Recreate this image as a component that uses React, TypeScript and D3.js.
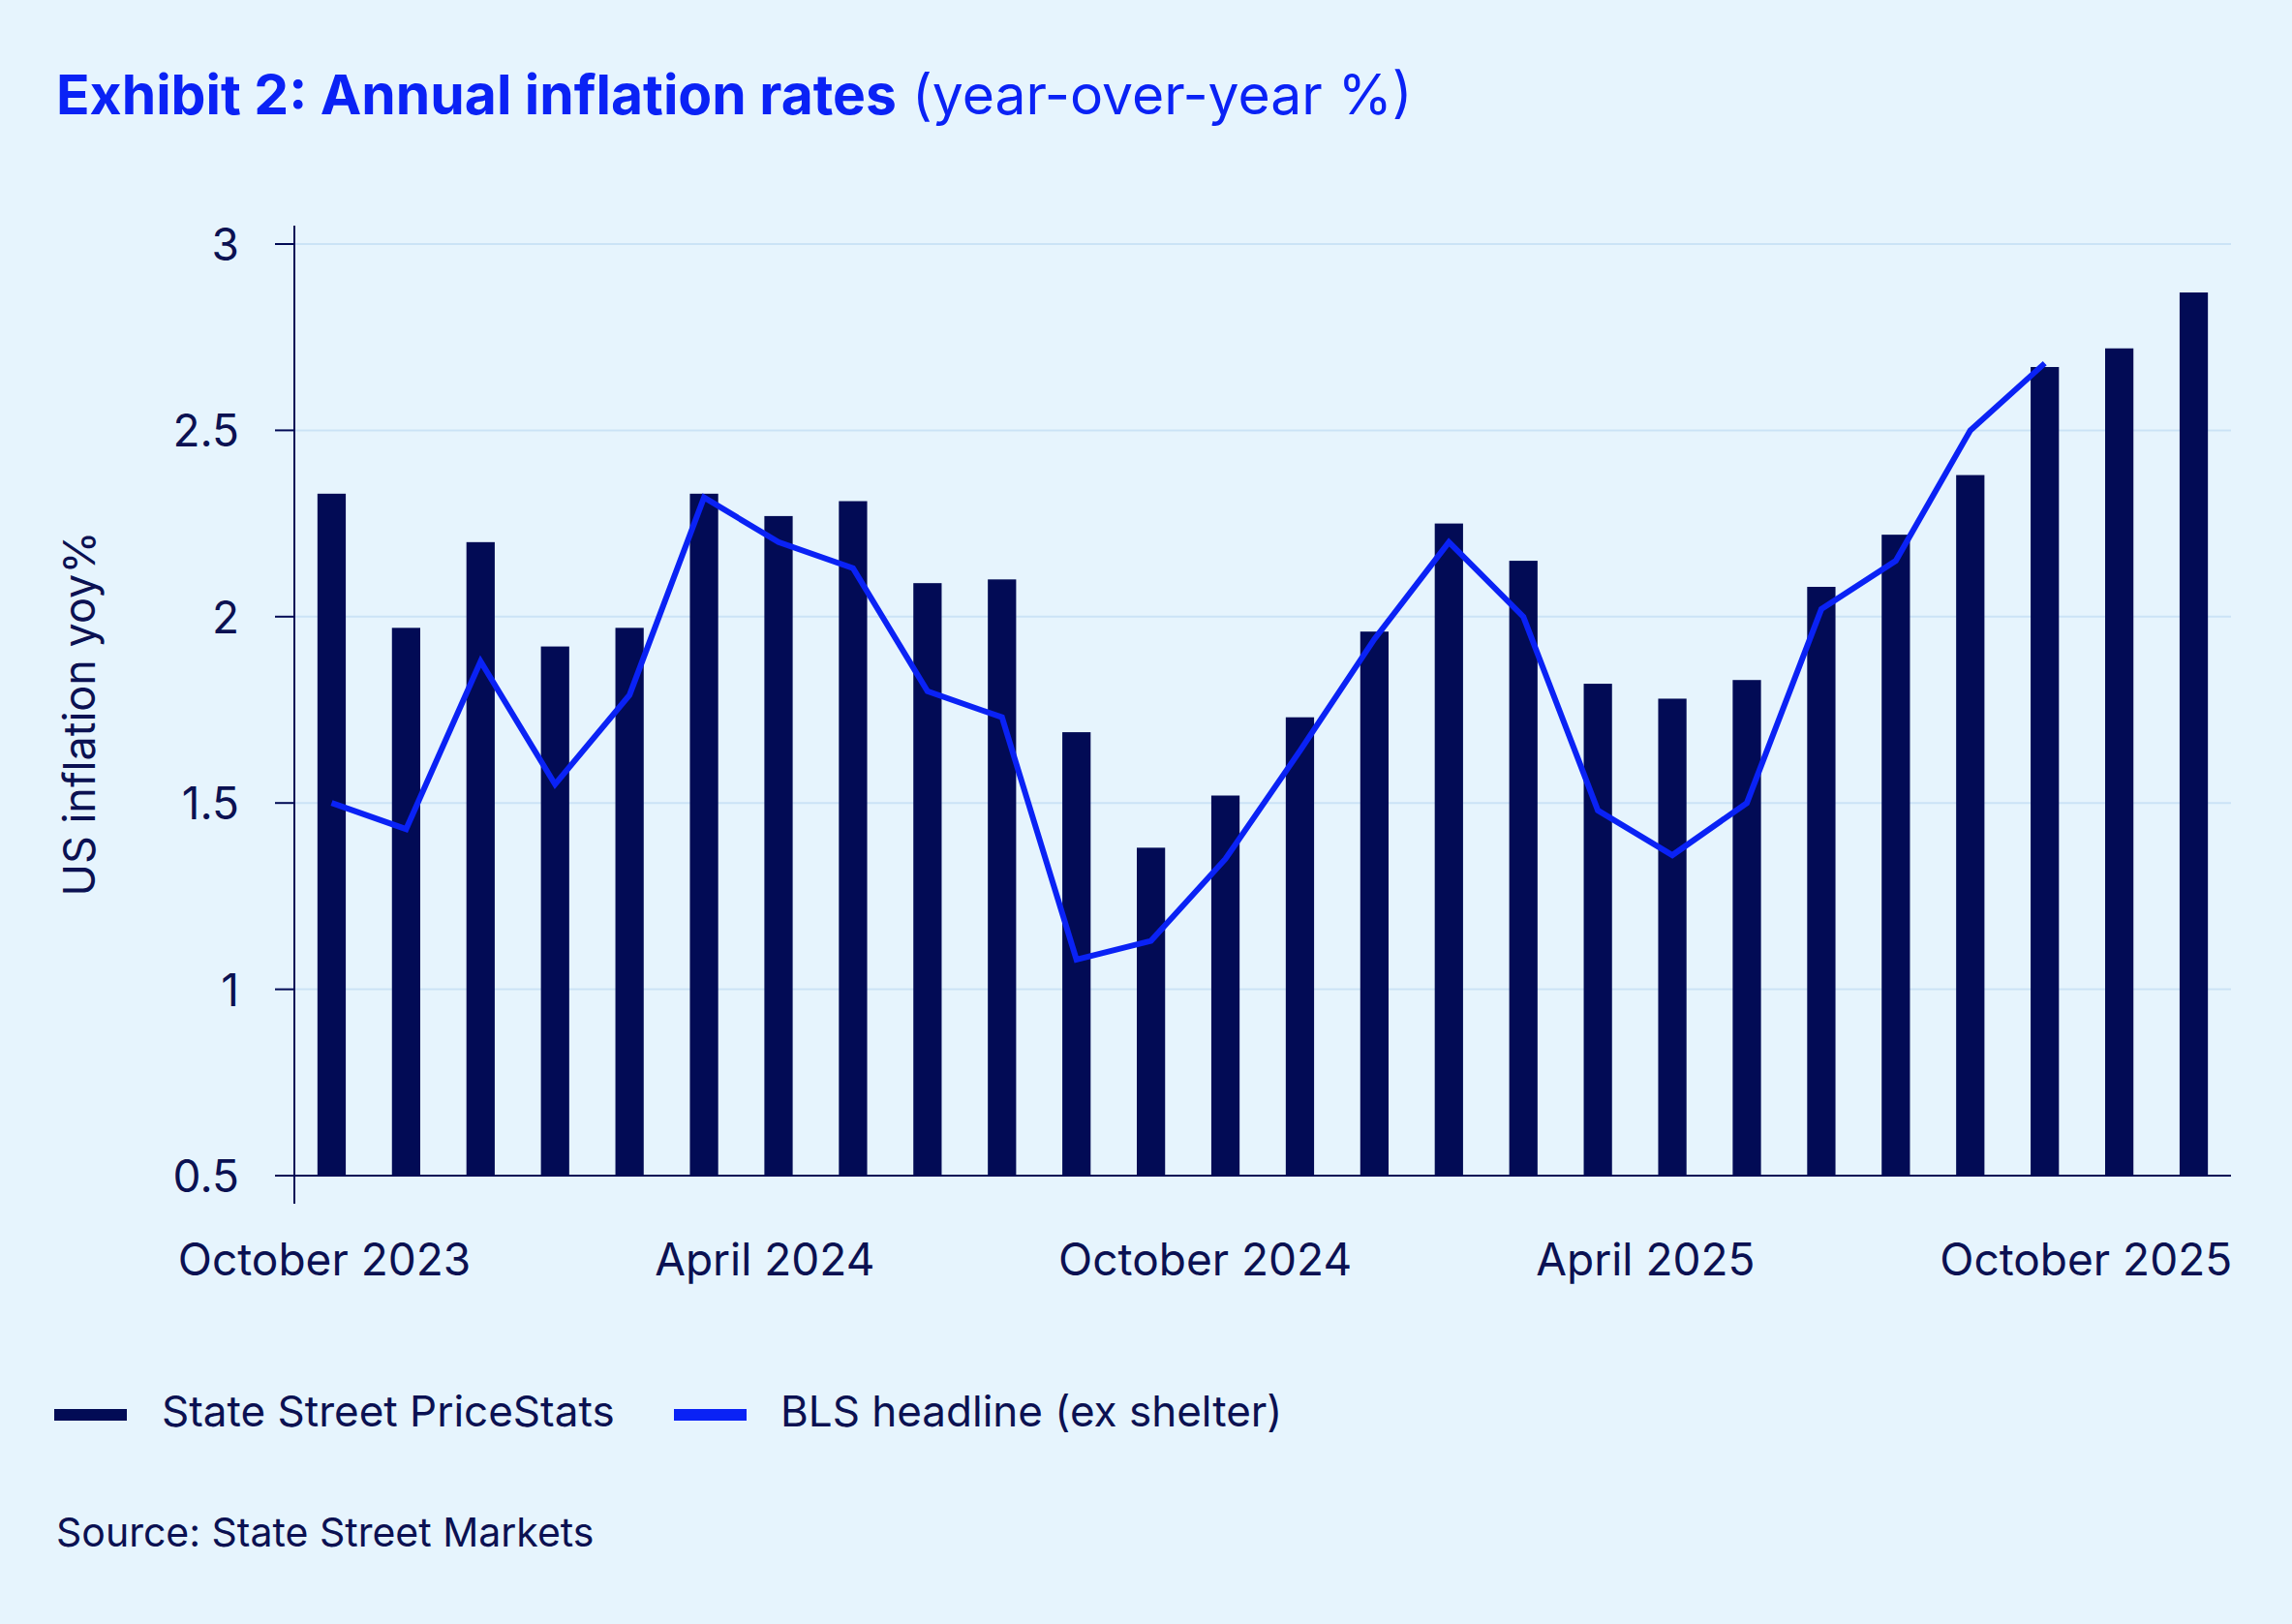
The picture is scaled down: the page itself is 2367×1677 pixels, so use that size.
import React from 'react';
import * as d3 from 'd3';

// months shown as bars, Oct 2023 .. Nov 2025
const months = [
  '2023-10', '2023-11', '2023-12', '2024-01', '2024-02', '2024-03',
  '2024-04', '2024-05', '2024-06', '2024-07', '2024-08', '2024-09',
  '2024-10', '2024-11', '2024-12', '2025-01', '2025-02', '2025-03',
  '2025-04', '2025-05', '2025-06', '2025-07', '2025-08', '2025-09',
  '2025-10', '2025-11',
];

const priceStats = [
  2.33, 1.97, 2.20, 1.92, 1.97, 2.33, 2.27, 2.31, 2.09, 2.10, 1.69, 1.38, 1.52,
  1.73, 1.96, 2.25, 2.15, 1.82, 1.78, 1.83, 2.08, 2.22, 2.38, 2.67, 2.72, 2.87,
];

const blsHeadline: (number | null)[] = [
  1.50, 1.43, 1.88, 1.55, 1.79, 2.32, 2.20, 2.13, 1.80, 1.73, 1.08, 1.13, 1.35,
  1.64, 1.94, 2.20, 2.00, 1.48, 1.36, 1.50, 2.02, 2.15, 2.50, 2.68, null, null,
];

const tickMonths: [string, string][] = [
  ['2023-10', 'October 2023'],
  ['2024-04', 'April 2024'],
  ['2024-10', 'October 2024'],
  ['2025-04', 'April 2025'],
  ['2025-10', 'October 2025'],
];

const yTicks = [0.5, 1, 1.5, 2, 2.5, 3];

const W = 2367;
const H = 1677;
const margin = { top: 252, right: 63, bottom: 463, left: 304 };

const BG = '#E6F4FD';
const NAVY = '#020B55';
const BLUE = '#0A22F5';
const TEXT = '#0B1152';
const GRID = '#CBE3F6';
const FONT = 'Inter, "Open Sans", sans-serif';

export default function App() {
  const x = d3
    .scaleBand<string>()
    .domain(months)
    .range([margin.left, W - margin.right])
    .paddingInner(0.62)
    .paddingOuter(0.31);

  // label positions drift slightly left of the bar centres in the original
  const xLabel = d3
    .scalePoint<string>()
    .domain(months)
    .range([margin.left + 31, W - margin.right - 74]);

  const y = d3.scaleLinear().domain([0.5, 3]).range([H - margin.bottom, margin.top]);

  const line = d3
    .line<number | null>()
    .defined((d) => d != null)
    .x((_, i) => (x(months[i]) as number) + x.bandwidth() / 2)
    .y((d) => y(d as number));

  return (
    <svg
      width={W}
      height={H}
      style={{ position: 'absolute', left: 0, top: 0, display: 'block' }}
      fontFamily={FONT}
    >
      <rect width={W} height={H} fill={BG} />

      {/* title */}
      <text x={58} y={118} fontSize={57} fill={BLUE}>
        <tspan fontWeight={700}>Exhibit 2: Annual inflation rates</tspan>
        <tspan fontWeight={400}> (year-over-year %)</tspan>
      </text>

      {/* gridlines */}
      <g>
        {yTicks.slice(1).map((t) => (
          <line
            key={t}
            x1={margin.left}
            x2={W - margin.right}
            y1={y(t)}
            y2={y(t)}
            stroke={GRID}
            strokeWidth={2}
          />
        ))}
      </g>

      {/* bars */}
      <g>
        {priceStats.map((v, i) => (
          <rect
            key={months[i]}
            x={x(months[i])}
            y={y(v)}
            width={x.bandwidth()}
            height={y(0.5) - y(v)}
            fill={NAVY}
          />
        ))}
      </g>

      {/* BLS line */}
      <path
        d={line(blsHeadline) || ''}
        fill="none"
        stroke={BLUE}
        strokeWidth={6}
        strokeLinejoin="miter"
      />

      {/* y axis */}
      <g>
        <line
          x1={margin.left}
          x2={margin.left}
          y1={margin.top - 19}
          y2={H - margin.bottom + 29}
          stroke={NAVY}
          strokeWidth={2}
        />
        {yTicks.map((t) => (
          <g key={t} transform={`translate(0,${y(t)})`}>
            <line x1={margin.left - 20} x2={margin.left} stroke={NAVY} strokeWidth={2} />
            <text
              x={margin.left - 57}
              textAnchor="end"
              dominantBaseline="central"
              fontSize={46}
              fill={TEXT}
            >
              {String(t)}
            </text>
          </g>
        ))}
        <text
          transform={`translate(81,${(margin.top + H - margin.bottom) / 2 + 4}) rotate(-90)`}
          textAnchor="middle"
          dominantBaseline="central"
          fontSize={45}
          fill={TEXT}
        >
          US inflation yoy%
        </text>
      </g>

      {/* x axis */}
      <g>
        <line
          x1={margin.left}
          x2={W - margin.right}
          y1={y(0.5)}
          y2={y(0.5)}
          stroke={NAVY}
          strokeWidth={2}
        />
        {tickMonths.map(([m, label]) => (
          <text
            key={m}
            x={xLabel(m)}
            y={1317}
            textAnchor="middle"
            fontSize={46}
            fill={TEXT}
          >
            {label}
          </text>
        ))}
      </g>

      {/* legend */}
      <g>
        <rect x={56} y={1455} width={75} height={12} fill={NAVY} />
        <text x={167} y={1473} fontSize={44} fill={TEXT}>
          State Street PriceStats
        </text>
        <rect x={696} y={1455} width={75} height={12} fill={BLUE} />
        <text x={806} y={1473} fontSize={44} fill={TEXT}>
          BLS headline (ex shelter)
        </text>
      </g>

      <text x={58} y={1597} fontSize={41} fill={TEXT}>
        Source: State Street Markets
      </text>
    </svg>
  );
}
